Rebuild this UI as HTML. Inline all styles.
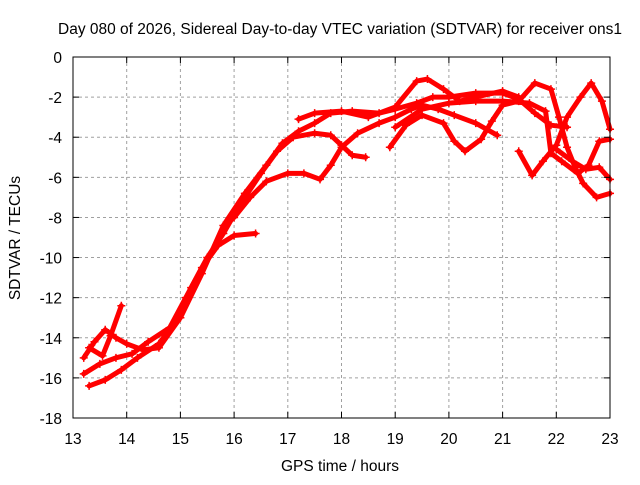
<!DOCTYPE html>
<html><head><meta charset="utf-8"><style>
body{margin:0;background:#fff;}
svg text{font-family:"Liberation Sans",sans-serif;font-size:15.5px;fill:#000;}
</style></head><body>
<svg id="chart" width="640" height="480" xmlns="http://www.w3.org/2000/svg">
<rect width="640" height="480" fill="#fff"/>
<g id="grid"></g><g id="series"></g><g id="axes"></g>
</svg>
<script>
const xTicks=[13,14,15,16,17,18,19,20,21,22,23];
const yTicks=[0,-2,-4,-6,-8,-10,-12,-14,-16,-18];
const track1=[[13.3,-16.4],[13.6,-16.1],[13.9,-15.6],[14.2,-15.0],[14.6,-14.3],[14.9,-13.2],[15.2,-11.5],[15.5,-10.0],[15.8,-8.8],[16.1,-7.4],[16.5,-5.8],[16.8,-4.7],[17.1,-4.0],[17.5,-3.8],[17.8,-3.9],[18.0,-4.4],[18.2,-4.9],[18.45,-5.0]];
const track2=[[13.2,-15.8],[13.5,-15.3],[13.8,-15.0],[14.1,-14.8],[14.4,-14.2],[14.8,-13.5],[15.1,-12.0],[15.4,-10.5],[15.7,-9.4],[16.0,-8.9],[16.4,-8.8]];
const track3=[[13.2,-15.0],[13.4,-14.2],[13.6,-13.6],[13.8,-14.0],[14.0,-14.3],[14.3,-14.6],[14.6,-14.5],[15.0,-13.0],[15.4,-10.8],[15.8,-8.4],[16.2,-6.8],[16.6,-5.4],[16.9,-4.3],[17.2,-3.7],[17.5,-3.3],[17.8,-2.8],[18.2,-2.7],[18.7,-2.8],[19.0,-2.6],[19.4,-2.3],[19.7,-2.0],[20.0,-2.0],[20.5,-1.8],[21.0,-1.8],[21.3,-2.1],[21.6,-2.8],[21.9,-3.4],[22.2,-3.5]];
const track4=[[16.0,-8.0],[16.3,-7.0],[16.6,-6.2],[17.0,-5.8],[17.3,-5.8],[17.6,-6.1],[17.8,-5.4],[18.0,-4.5],[18.3,-3.8],[18.7,-3.3],[19.0,-3.0],[19.3,-2.6],[19.5,-2.4],[19.8,-2.6],[20.1,-2.9],[20.5,-3.3],[20.9,-3.9]];
const track5=[[17.2,-3.1],[17.5,-2.8],[18.0,-2.7],[18.5,-3.0],[19.0,-2.5],[19.4,-1.2],[19.6,-1.1],[19.9,-1.6],[20.2,-2.2],[20.5,-2.0],[21.0,-1.7],[21.3,-2.0]];
const track6=[[18.9,-4.5],[19.2,-3.4],[19.5,-2.9],[19.9,-3.3],[20.1,-4.2],[20.3,-4.7],[20.6,-4.1],[20.8,-3.2],[21.0,-2.4],[21.3,-2.2],[21.6,-1.3],[21.9,-1.6],[22.05,-3.0],[22.2,-4.5],[22.35,-5.5],[22.5,-6.3],[22.75,-7.0],[23.0,-6.8]];
const track7=[[21.3,-4.7],[21.55,-5.9],[21.75,-5.2],[22.0,-4.4],[22.2,-3.0],[22.45,-2.0],[22.65,-1.3],[22.85,-2.2],[23.0,-3.6]];
const track8=[[19.0,-3.5],[19.5,-2.6],[20.0,-2.3],[20.5,-2.2],[21.0,-2.2],[21.5,-2.3],[21.8,-2.7],[21.9,-4.8],[22.1,-5.2],[22.4,-5.8],[22.6,-5.4],[22.8,-4.2],[23.0,-4.1]];
const track9=[[22.0,-4.6],[22.3,-5.2],[22.55,-5.6],[22.8,-5.5],[23.0,-6.1]];
const track10=[[13.3,-14.5],[13.55,-14.9],[13.7,-13.9],[13.9,-12.4]];
const tracks=[track1,track2,track3,track4,track5,track6,track7,track8,track9,track10];
const L=73,R=610,T=57,B=418,xMin=13,xMax=23,yMin=-18,yMax=0;
const xs=v=>L+(v-xMin)/(xMax-xMin)*(R-L);
const ys=v=>B-(v-yMin)/(yMax-yMin)*(B-T);
const NS='http://www.w3.org/2000/svg';
function mk(tag,parent,attrs){const e=document.createElementNS(NS,tag);for(const k in attrs)e.setAttribute(k,attrs[k]);parent.appendChild(e);return e;}
const grid=document.getElementById('grid'),axes=document.getElementById('axes'),ser=document.getElementById('series');
xTicks.forEach(t=>{
 const x=xs(t);
 if(t>xMin&&t<xMax){const g=mk('line',grid,{x1:x,x2:x,y1:T,y2:B,stroke:'#a0a0a0','stroke-dasharray':'3,3'});
 
 }
 mk('line',axes,{x1:x,x2:x,y1:B,y2:B-6,stroke:'#000'});
 mk('line',axes,{x1:x,x2:x,y1:T,y2:T+6,stroke:'#000'});
 const tx=mk('text',axes,{x:x,y:B+26,'text-anchor':'middle'});tx.textContent=t;
 
 
});
yTicks.forEach(t=>{
 const y=ys(t);
 if(t>yMin&&t<yMax){const g=mk('line',grid,{x1:L,x2:R,y1:y,y2:y,stroke:'#a0a0a0','stroke-dasharray':'3,3'});
 
 }
 mk('line',axes,{x1:L,x2:L+6,y1:y,y2:y,stroke:'#000'});
 mk('line',axes,{x1:R,x2:R-6,y1:y,y2:y,stroke:'#000'});
 const tx=mk('text',axes,{x:L-11,y:y+6,'text-anchor':'end'});tx.textContent=t;
 
 
});
const frame=mk('rect',axes,{x:L,y:T,width:R-L,height:B-T,fill:'none',stroke:'#000'});


tracks.forEach(tr=>{
 const p=mk('polyline',ser,{points:tr.map(d=>xs(d[0])+','+ys(d[1])).join(' '),fill:'none',stroke:'#ff0000','stroke-width':5,'stroke-linejoin':'round','stroke-linecap':'round'});
 
 
 tr.forEach(d=>{
  const m=mk('path',ser,{d:`M${xs(d[0])-4},${ys(d[1])}h8M${xs(d[0])},${ys(d[1])-4}v8`,stroke:'#ff0000','stroke-width':1.5});
  
  
 });
});
const title=mk('text',axes,{x:340,y:34,'text-anchor':'middle'});title.textContent='Day 080 of 2026, Sidereal Day-to-day VTEC variation (SDTVAR) for receiver ons1';


const xl=mk('text',axes,{x:340,y:471,'text-anchor':'middle'});xl.textContent='GPS time / hours';


const yl=mk('text',axes,{x:0,y:0,'text-anchor':'middle',transform:'translate(20,238) rotate(-90)'});yl.textContent='SDTVAR / TECUs';


</script>
</body></html>
